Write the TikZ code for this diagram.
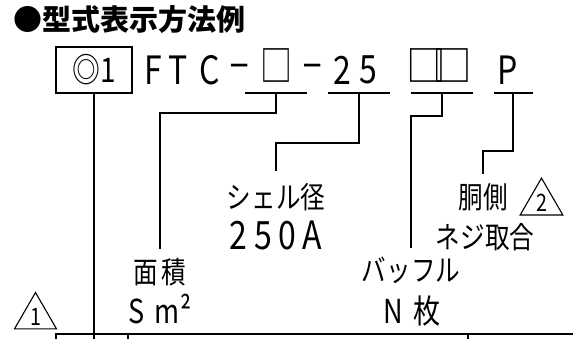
\documentclass[tikz,border=0pt]{standalone}
\usepackage{fontspec}
\setmainfont{Noto Sans CJK JP}
\newfontfamily\nar{Noto Sans CJK JP}[FakeStretch=0.82]
\usetikzlibrary{shapes.geometric}
\newcommand{\hy}{\scalebox{2}[1]{-}}
\newcommand{\bx}{\scalebox{1.0}[1.08]{□}}
\newcommand{\bxw}{\scalebox{1.24}[1.08]{□}}

\begin{document}
\begin{tikzpicture}[x=1pt, y=-1pt, line width=1.6pt,
  lbl/.style={inner sep=0pt, font=\nar\fontsize{30}{30}\selectfont},
  code/.style={inner sep=0pt, font=\nar\fontsize{39}{39}\selectfont},
  tri/.style={draw, line width=1.1pt, regular polygon, regular polygon sides=3, minimum size=40pt, inner sep=0pt, font=\nar\fontsize{24}{24}\selectfont}]
\useasboundingbox (0,0) rectangle (573,338);
\node (T) at (129,20) [inner sep=0pt, font=\fontsize{29}{29}\selectfont\bfseries] {●型式表示方法例};
\node (M) at (94,70) [draw, minimum width=76pt, minimum height=46pt, inner sep=0pt, font=\nar\fontsize{34}{34}\selectfont] {◎1};
\foreach \x/\c [count=\i] in {153/F, 178/T, 210/C, 240/\hy, 313/\hy, 342.5/2, 368.5/5, 507.5/P}
  \node (c\i) at (\x,70) [code] {\c};
\foreach \x/\c [count=\i] in {276.5/\bx, 426/\bxw, 452/\bxw}
  \node (s\i) at (\x,70) [code, yshift=5pt] {\c};
\foreach \a/\b/\m [count=\i] in {245/307/276, 328/390/359, 411/473/442, 494/533/513}{
  \draw (\a,93) -- (\b,93);
  \coordinate (u\i) at (\m,93);
}
\node (A) at (160,272) [lbl] {面\kern3pt 積};
\node (A2) at (160,309) [lbl, font=\nar\fontsize{33}{33}\selectfont] {S \kern4pt m²};
\node (B) at (276,197) [lbl] {シェル径};
\node (B2) at (276,235) [code, font=\nar\fontsize{39}{39}\selectfont\addfontfeature{LetterSpace=17}] {250A};
\node (D) at (411,270) [lbl] {バッフル};
\node (D2) at (412,311) [lbl, font=\nar\fontsize{33}{33}\selectfont] {N \kern5pt 枚};
\node (E) at (483,197) [lbl] {胴側};
\node (E2) at (485,237) [lbl] {ネジ取合};
\node (t1) at (35.5,316.7) [tri] {1};
\node (t2) at (541.5,202.7) [tri] {2};
\draw (u1) -- ++(0,20) -| ([yshift=8pt]A.north);
\draw (u2) -- ++(0,50) -| ([yshift=11pt]B.north);
\draw (u3) -- ++(0,23) -| ([yshift=8pt]D.north);
\draw (u4) -- ++(0,58) -| ([yshift=8pt]E.north);
\coordinate (z) at (94,340);
\draw (M.south) -- (z);
\draw (56,340) -- (56,334) -- (580,334);
\draw (128,334) -- (128,340);
\draw (468,334) -- (468,340);
\end{tikzpicture}
\end{document}
